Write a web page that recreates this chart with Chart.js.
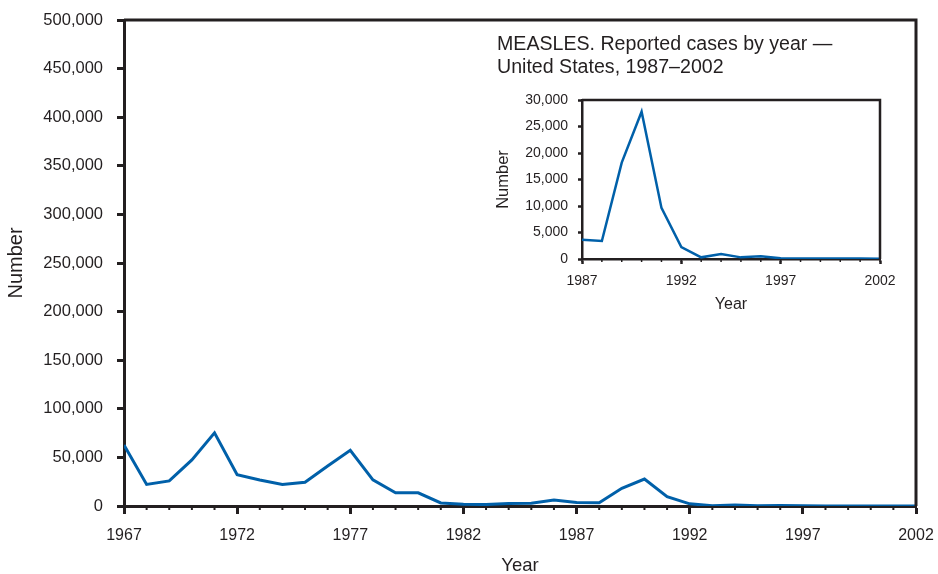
<!DOCTYPE html>
<html>
<head>
<meta charset="utf-8">
<script src="https://cdn.jsdelivr.net/npm/chart.js@4"></script>
<style>
  body { margin: 0; background: #fff; }
  #wrap { position: relative; width: 938px; height: 574px; }
  #mainChart { position: absolute; left: 0; top: 0; }
  #insetChart { position: absolute; left: 490px; top: 88px; }
  #insetTitle {
    position: absolute; left: 497px; top: 32px;
    font-family: "Liberation Sans", Arial, sans-serif; font-size: 19.6px;
    line-height: 23px; color: #231f20;
  }
</style>
</head>
<body>
<div id="wrap">
  <canvas id="mainChart" width="938" height="574"></canvas>
  <canvas id="insetChart" width="425" height="230"></canvas>
  <div id="insetTitle">MEASLES. Reported cases by year —<br>United States, 1987–2002</div>
</div>
<script>
const years = [1967, 1968, 1969, 1970, 1971, 1972, 1973, 1974, 1975, 1976, 1977, 1978,
    1979, 1980, 1981, 1982, 1983, 1984, 1985, 1986, 1987, 1988, 1989, 1990,
    1991, 1992, 1993, 1994, 1995, 1996, 1997, 1998, 1999, 2000, 2001, 2002];
const cases = [62705, 22231, 25826, 47351, 75290, 32275, 26690, 22094, 24374, 41126, 57345, 26871,
    13597, 13506, 3124, 1714, 1497, 2587, 2822, 6282, 3655, 3396, 18193, 27786,
    9643, 2237, 312, 963, 309, 508, 138, 100, 100, 86, 116, 44];
const mainTickYears = [1967, 1972, 1977, 1982, 1987, 1992, 1997, 2002];
const insetTickYears = [1987, 1992, 1997, 2002];

const ink = '#231f20';
const blue = '#0060a9';
const font = 'Liberation Sans, Arial, sans-serif';

const mainPoints = years.map((y, i) => ({x: y, y: cases[i]}));
const insetPoints = mainPoints.filter(p => p.x >= 1987);

// minor year ticks + top/right frame
const framePlugin = {
    id: 'frame',
    afterDraw(chart, args, opts) {
        const ctx = chart.ctx;
        const a = chart.chartArea;
        const xs = chart.scales.x;
        ctx.save();
        ctx.strokeStyle = ink;
        ctx.lineWidth = opts.width;
        ctx.beginPath();
        ctx.moveTo(a.left, a.top);
        ctx.lineTo(a.right, a.top);
        ctx.lineTo(a.right, a.bottom);
        ctx.stroke();
        ctx.lineWidth = opts.minorWidth;
        for (let yr = xs.min; yr <= xs.max; yr++) {
            const px = xs.getPixelForValue(yr);
            ctx.beginPath();
            ctx.moveTo(px, a.bottom);
            ctx.lineTo(px, a.bottom + opts.minorLen);
            ctx.stroke();
        }
        ctx.restore();
    }
};

// keep the plot box exactly where the layout padding puts it
const fitX = h => s => { s.height = h; s.paddingLeft = 0; s.paddingRight = 0; };
const fitY = w => s => { s.width = w; s.paddingTop = 0; s.paddingBottom = 0; };

const mainChart = new Chart(document.getElementById('mainChart'), {
    type: 'line',
    data: {
        datasets: [{
            data: mainPoints,
            borderColor: blue,
            borderWidth: 3,
            pointRadius: 0,
            tension: 0
        }]
    },
    options: {
        responsive: false,
        animation: false,
        layout: {padding: {top: 20, right: 22, left: 0, bottom: 0}},
        plugins: {
            legend: {display: false},
            tooltip: {enabled: false},
            frame: {width: 3, minorWidth: 2, minorLen: 4}
        },
        scales: {
            x: {
                type: 'linear',
                min: 1967,
                max: 2002,
                afterBuildTicks: s => { s.ticks = mainTickYears.map(v => ({value: v})); },
                afterFit: fitX(68),
                grid: {drawOnChartArea: false, tickLength: 8, tickWidth: 3, tickColor: ink},
                border: {color: ink, width: 3},
                ticks: {color: ink, font: {family: font, size: 16}, padding: 12, maxRotation: 0,
                    callback: v => String(v)},
                title: {display: true, text: 'Year', color: ink,
                    font: {family: font, size: 18.5}, padding: {top: 0, bottom: -3}}
            },
            y: {
                min: 0,
                max: 500000,
                afterFit: fitY(124),
                grid: {drawOnChartArea: false, tickLength: 7, tickWidth: 3, tickColor: ink},
                border: {color: ink, width: 3},
                ticks: {stepSize: 50000, color: ink, font: {family: font, size: 16.5}, padding: 14,
                    callback: v => v.toLocaleString('en-US')},
                title: {display: true, text: 'Number', color: ink,
                    font: {family: font, size: 20}, padding: {top: 4, bottom: 0}}
            }
        }
    },
    plugins: [framePlugin]
});

const insetChart = new Chart(document.getElementById('insetChart'), {
    type: 'line',
    data: {
        datasets: [{
            data: insetPoints,
            borderColor: blue,
            borderWidth: 2.5,
            pointRadius: 0,
            tension: 0
        }]
    },
    options: {
        responsive: false,
        animation: false,
        layout: {padding: {top: 12, right: 35, left: 0, bottom: 0}},
        plugins: {
            legend: {display: false},
            tooltip: {enabled: false},
            frame: {width: 2.5, minorWidth: 1.5, minorLen: 3}
        },
        scales: {
            x: {
                type: 'linear',
                min: 1987,
                max: 2002,
                afterBuildTicks: s => { s.ticks = insetTickYears.map(v => ({value: v})); },
                afterFit: fitX(59),
                grid: {drawOnChartArea: false, tickLength: 5, tickWidth: 2.5, tickColor: ink},
                border: {color: ink, width: 2.5},
                ticks: {color: ink, font: {family: font, size: 14}, padding: 9, maxRotation: 0,
                    callback: v => String(v)},
                title: {display: true, text: 'Year', color: ink,
                    font: {family: font, size: 16}, padding: {top: 0, bottom: 4}}
            },
            y: {
                min: 0,
                max: 30000,
                afterFit: fitY(92),
                grid: {drawOnChartArea: false, tickLength: 4, tickWidth: 2.5, tickColor: ink},
                border: {color: ink, width: 2.5},
                ticks: {stepSize: 5000, color: ink, font: {family: font, size: 14}, padding: 10,
                    callback: v => v.toLocaleString('en-US')},
                title: {display: true, text: 'Number', color: ink,
                    font: {family: font, size: 16.5}, padding: {top: 4, bottom: 0}}
            }
        }
    },
    plugins: [framePlugin]
});
</script>
</body>
</html>
